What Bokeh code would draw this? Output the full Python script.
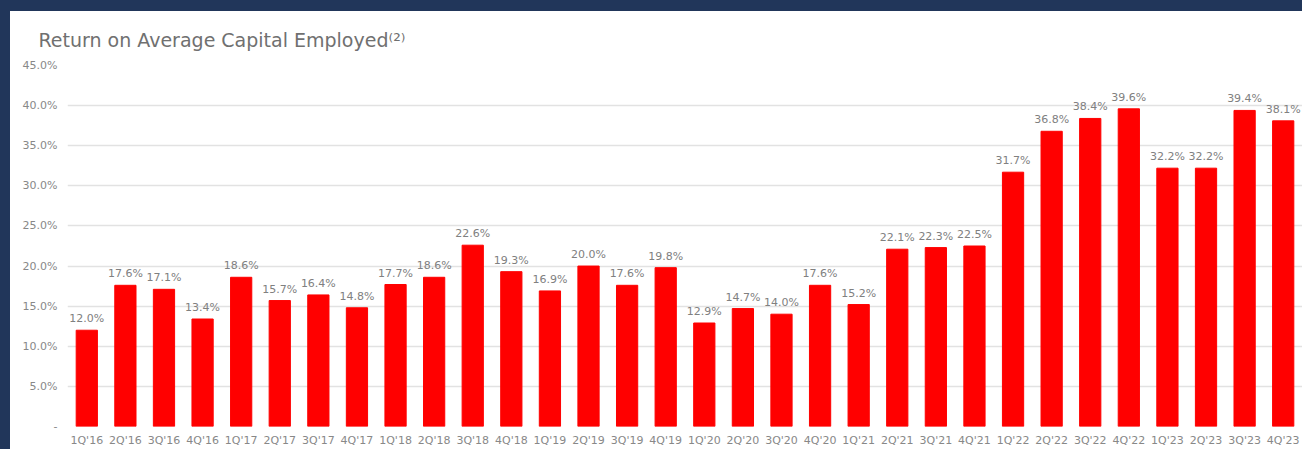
from bokeh.plotting import figure
from bokeh.models import ColumnDataSource, FixedTicker, Range1d, LabelSet
from bokeh.core.properties import value
from bokeh.layouts import column
from bokeh.embed import file_html
from bokeh.resources import INLINE

quarters = ["1Q'16", "2Q'16", "3Q'16", "4Q'16", "1Q'17", "2Q'17", "3Q'17", "4Q'17",
            "1Q'18", "2Q'18", "3Q'18", "4Q'18", "1Q'19", "2Q'19", "3Q'19", "4Q'19",
            "1Q'20", "2Q'20", "3Q'20", "4Q'20", "1Q'21", "2Q'21", "3Q'21", "4Q'21",
            "1Q'22", "2Q'22", "3Q'22", "4Q'22", "1Q'23", "2Q'23", "3Q'23", "4Q'23"]
roace = [12.0, 17.6, 17.1, 13.4, 18.6, 15.7, 16.4, 14.8,
         17.7, 18.6, 22.6, 19.3, 16.9, 20.0, 17.6, 19.8,
         12.9, 14.7, 14.0, 17.6, 15.2, 22.1, 22.3, 22.5,
         31.7, 36.8, 38.4, 39.6, 32.2, 32.2, 39.4, 38.1]
y_ticks = [0, 5, 10, 15, 20, 25, 30, 35, 40, 45]
title_text = "Return on Average Capital Employed\u207d\u00b2\u207e"

src = ColumnDataSource(dict(q=quarters, v=roace, lab=["%.1f%%" % v for v in roace]))

FONT = "DejaVu Sans"

p = figure(x_range=quarters, y_range=Range1d(0, 45), width=1292, height=438,
           output_backend="svg", toolbar_location=None,
           min_border_left=57, min_border_right=0, min_border_top=54, min_border_bottom=23,
           styles={"background-color": "white"})
p.background_fill_color = "white"
p.border_fill_color = "white"
p.outline_line_color = None

p.title.text = title_text
p.title.text_font = FONT
p.title.text_font_size = "19px"
p.title.text_font_style = "normal"
p.title.text_color = "#707070"
p.title.offset = -29
p.title.standoff = 30

p.vbar(x="q", top="v", width=0.55, color="#ff0000", source=src)

labels = LabelSet(x="q", y="v", text="lab", source=src, text_align="center",
                  text_baseline="bottom", y_offset=5, text_font_size=value("11px"),
                  text_color="#808080", text_font=value(FONT))
p.add_layout(labels)

for ax in (p.xaxis, p.yaxis):
    ax.axis_line_color = None
    ax.major_tick_line_color = None
    ax.minor_tick_line_color = None
    ax.major_tick_out = 0
    ax.major_tick_in = 0
    ax.minor_tick_out = 0
    ax.minor_tick_in = 0
    ax.major_label_text_font = FONT
    ax.major_label_text_color = "#888888"

p.xaxis.major_label_standoff = 7
p.xaxis.major_label_text_font_size = "11px"

p.yaxis.ticker = FixedTicker(ticks=y_ticks)
p.yaxis.major_label_overrides = {t: ("%.1f%%" % t if t else "-") for t in y_ticks}
p.yaxis.major_label_standoff = 10
p.yaxis.major_label_text_font_size = "11px"

p.xgrid.grid_line_color = None
p.ygrid.grid_line_color = "#e2e2e2"
p.ygrid.grid_line_width = 1.5
p.ygrid.ticker = FixedTicker(ticks=y_ticks)

layout = column(p, styles={"background-color": "#21365a", "padding-left": "10px",
                           "padding-top": "11px"}, width=1302, height=449)

open("out.html", "w").write(file_html(layout, INLINE))
